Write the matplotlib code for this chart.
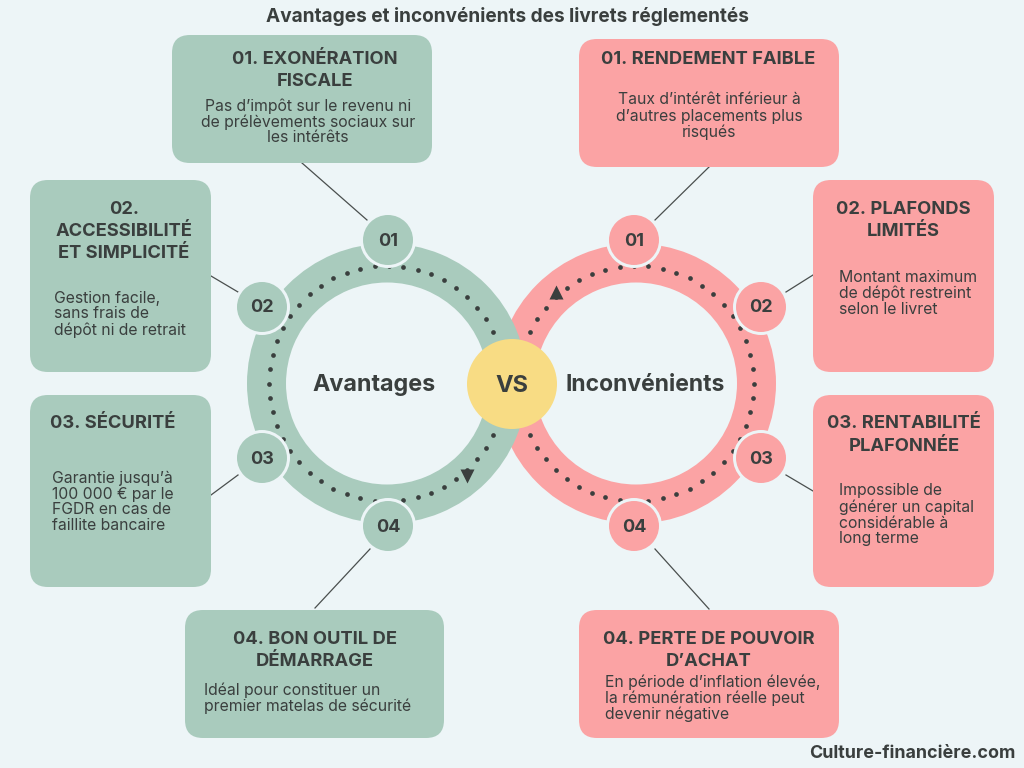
import numpy as np
import matplotlib
matplotlib.use("Agg")
import matplotlib.pyplot as plt
from matplotlib.patches import FancyBboxPatch, Circle, Wedge

BG = "#EDF5F7"; GREEN = "#A9CBBD"; RED = "#FBA3A4"; YELLOW = "#F8DC84"; INK = "#3A3F3E"
FONT = "Inter"
HEAD = 13.2; BODY = 11.35

title = "Avantages et inconvénients des livrets réglementés"
footer = "Culture-financière.com"

green_boxes = [
    (172, 35, 432, 163, ["01. EXONÉRATION", "FISCALE"], 315, 59, "center",
     ["Pas d’impôt sur le revenu ni", "de prélèvements sociaux sur", "les intérêts"], 308, 106, "center"),
    (30, 180, 211, 372, ["02.", "ACCESSIBILITÉ", "ET SIMPLICITÉ"], 124, 209, "center",
     ["Gestion facile,", "sans frais de", "dépôt ni de retrait"], 54, 298, "left"),
    (30, 395, 211, 587, ["03. SÉCURITÉ"], 113, 424, "center",
     ["Garantie jusqu’à", "100 000 € par le", "FGDR en cas de", "faillite bancaire"], 52, 478, "left"),
    (185, 610, 444, 738, ["04. BON OUTIL DE", "DÉMARRAGE"], 315, 639, "center",
     ["Idéal pour constituer un", "premier matelas de sécurité"], 204, 690, "left"),
]
red_boxes = [
    (579, 39, 839, 167, ["01. RENDEMENT FAIBLE"], 708, 59, "center",
     ["Taux d’intérêt inférieur à", "d’autres placements plus", "risqués"], 709, 100, "center"),
    (813, 180, 994, 372, ["02. PLAFONDS", "LIMITÉS"], 903, 209, "center",
     ["Montant maximum", "de dépôt restreint", "selon le livret"], 839, 277, "left"),
    (813, 395, 994, 587, ["03. RENTABILITÉ", "PLAFONNÉE"], 904, 424, "center",
     ["Impossible de", "générer un capital", "considérable à", "long terme"], 839, 491, "left"),
    (579, 610, 839, 738, ["04. PERTE DE POUVOIR", "D’ACHAT"], 709, 639, "center",
     ["En période d’inflation élevée,", "la rémunération réelle peut", "devenir négative"], 605, 682, "left"),
]
green_links = [((302, 163), (367, 220)), ((211, 276), (238, 292)), ((211, 495), (238, 475)), ((315, 608), (370, 549))]
red_links = [((709, 167), (655, 220)), ((786, 292), (813, 275)), ((786, 475), (813, 491)), ((655, 549), (709, 609))]

ring_y = 383.5
green_x = 387; red_x = 636
ring_outer = 140; ring_inner = 101; dot_r = 118
numbers = ["01", "02", "03", "04"]
green_nodes = [(388, 240), (262, 307), (262, 458), (388, 526)]
red_nodes = [(634, 240), (761, 307), (761, 458), (634, 526)]
dot_step = 7.0
dot_limit = 154.0

fig = plt.figure(figsize=(10.24, 7.68), dpi=100, facecolor=BG)
ax = fig.add_axes([0, 0, 1, 1])
ax.set_xlim(0, 1024); ax.set_ylim(768, 0); ax.axis("off"); ax.set_aspect("equal")

def box(b, col):
    x0, y0, x1, y1, hl, hx, hy, ha, bl, bx, by, ba = b
    r = 18
    ax.add_patch(FancyBboxPatch((x0 + r, y0 + r), x1 - x0 - 2 * r, y1 - y0 - 2 * r,
                                boxstyle=f"round,pad={r},rounding_size={r}", fc=col, ec="none", zorder=2))
    for i, s in enumerate(hl):
        ax.text(hx, hy + i * 22.3, s, fontsize=HEAD, fontweight="bold", family=FONT, color=INK,
                ha=ha, va="center", zorder=5)
    for i, s in enumerate(bl):
        ax.text(bx, by + i * 16, s, fontsize=BODY, family=FONT, color=INK, ha=ba, va="center", zorder=5)

def ring(cx, col):
    ax.add_patch(Wedge((cx, ring_y), ring_outer, 0, 360, width=ring_outer - ring_inner, fc=col, ec="none", zorder=3))

def dots(cx, offset):
    a = np.radians(offset + np.arange(-dot_limit, dot_limit + .01, dot_step))
    ax.plot(cx + dot_r * np.cos(a), ring_y + dot_r * np.sin(a), "o", ms=3.4, color=INK, mec="none", zorder=3.1)

def nodes(pts, col):
    for (x, y), n in zip(pts, numbers):
        ax.add_patch(Circle((x, y), 28, fc=BG, ec="none", zorder=4))
        ax.add_patch(Circle((x, y), 25, fc=col, ec="none", zorder=4.1))
        ax.text(x, y + 1, n, fontsize=13, fontweight="bold", family=FONT, color=INK, ha="center", va="center", zorder=5)

for b in green_boxes: box(b, GREEN)
for b in red_boxes: box(b, RED)
for (p, q) in green_links + red_links:
    ax.plot([p[0], q[0]], [p[1], q[1]], color="#4A4F4E", lw=0.9, zorder=1.5)

ring(red_x, RED)
dots(red_x, 0)
ax.plot([556], [292], marker="^", ms=10.5, color=INK, mec="none", zorder=3.2)
ring(green_x, GREEN)
dots(green_x, 180)
ax.plot([467], [476], marker="v", ms=10.5, color=INK, mec="none", zorder=3.2)
nodes(green_nodes, GREEN)
nodes(red_nodes, RED)

ax.add_patch(Circle((512, 384), 45, fc=YELLOW, ec="none", zorder=6))
ax.text(512, 386, "VS", fontsize=17, fontweight="bold", family=FONT, color=INK, ha="center", va="center", zorder=7)
ax.text(374, 385, "Avantages", fontsize=16.8, fontweight="bold", family=FONT, color=INK, ha="center", va="center", zorder=7)
ax.text(645, 385, "Inconvénients", fontsize=16.5, fontweight="bold", family=FONT, color=INK, ha="center", va="center", zorder=7)
ax.text(507, 17, title, fontsize=13.7, fontweight="bold", family=FONT, color=INK, ha="center", va="center", zorder=7)
ax.text(1016, 753, footer, fontsize=12.9, fontweight="bold", family=FONT, color=INK, ha="right", va="center", zorder=7)

fig.savefig("out.png", dpi=100, facecolor=BG)
